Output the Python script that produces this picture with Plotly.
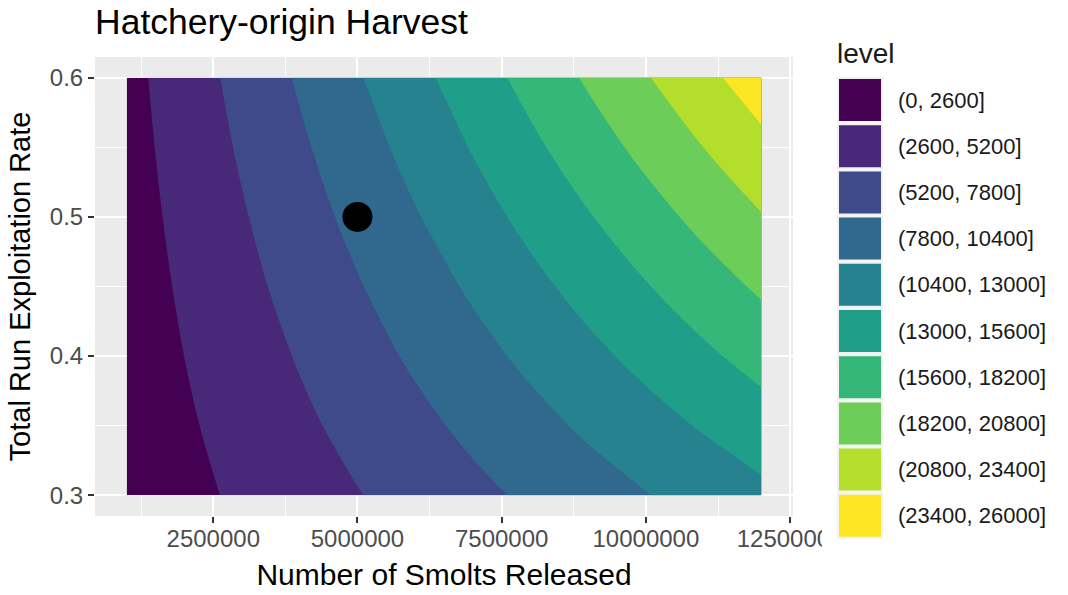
import plotly.graph_objects as go

# Smolts released (grid columns) and total run exploitation rate (grid rows)
smolts = [1000000, 2000000, 3000000, 4000000, 5000000, 6000000,
          7000000, 8000000, 9000000, 10000000, 11000000, 12000000]
exploit_rate = [0.30, 0.35, 0.40, 0.45, 0.50, 0.55, 0.60]

# Hatchery-origin harvest on the grid (rows follow exploit_rate)
harvest_r30 = [910, 1960, 3000, 4040, 5090, 6130, 7180, 8220, 9260, 10310, 11350, 12400]
harvest_r35 = [1060, 2280, 3500, 4720, 5940, 7150, 8370, 9590, 10810, 12030, 13240, 14460]
harvest_r40 = [1220, 2610, 4000, 5390, 6790, 8180, 9570, 10960, 12350, 13740, 15140, 16530]
harvest_r45 = [1370, 2930, 4500, 6070, 7630, 9200, 10760, 12330, 13900, 15460, 17030, 18590]
harvest_r50 = [1520, 3260, 5000, 6740, 8480, 10220, 11960, 13700, 15440, 17180, 18920, 20660]
harvest_r55 = [1670, 3590, 5500, 7410, 9330, 11240, 13160, 15070, 16990, 18900, 20810, 22730]
harvest_r60 = [1820, 3910, 6000, 8090, 10180, 12260, 14350, 16440, 18530, 20620, 22700, 24790]
harvest = [harvest_r30, harvest_r35, harvest_r40, harvest_r45,
           harvest_r50, harvest_r55, harvest_r60]

# Contour bins and their labels
level_breaks = [0, 2600, 5200, 7800, 10400, 13000, 15600, 18200, 20800, 23400, 26000]
level_labels = ["(0, 2600]", "(2600, 5200]", "(5200, 7800]", "(7800, 10400]",
                "(10400, 13000]", "(13000, 15600]", "(15600, 18200]",
                "(18200, 20800]", "(20800, 23400]", "(23400, 26000]"]
level_colors = ["#440154", "#482878", "#3E4A89", "#31688E", "#26828E",
                "#1F9E89", "#35B779", "#6DCD59", "#B4DE2C", "#FDE725"]

# Current operating point
point_smolts = [5000000]
point_rate = [0.5]

x_tickvals = [2500000, 5000000, 7500000, 10000000, 12500000]
x_ticktext = ["2500000", "5000000", "7500000", "10000000", "12500000"]
x_minor = [1250000, 3750000, 6250000, 8750000, 11250000]
y_tickvals = [0.3, 0.4, 0.5, 0.6]
y_ticktext = ["0.3", "0.4", "0.5", "0.6"]
y_minor = [0.35, 0.45, 0.55]

W, H = 1068, 595
ML, MR, MT, MB = 95, 275, 57, 79
PW, PH = W - ML - MR, H - MT - MB
FONT = "Liberation Sans, Arial, sans-serif"


def px_x(px):
    return (px - ML) / PW


def px_y(py):
    return (H - MB - py) / PH


n = len(level_colors)
colorscale = [[i / (n - 1), c] for i, c in enumerate(level_colors)]
step = level_breaks[1] - level_breaks[0]

fig = go.Figure()
fig.add_trace(go.Contour(
    x=smolts, y=exploit_rate, z=harvest,
    colorscale=colorscale, showscale=False,
    contours=dict(start=level_breaks[1], end=level_breaks[-2], size=step,
                  coloring="fill", showlines=False),
    line=dict(width=0), hoverinfo="skip",
))
fig.add_trace(go.Scatter(
    x=point_smolts, y=point_rate, mode="markers",
    marker=dict(size=30, color="black", line=dict(width=0)),
    showlegend=False, hoverinfo="skip",
))

shapes = []
annotations = []

# The rightmost x tick label runs into the legend area and is cut off there
shapes.append(dict(type="rect", xref="paper", yref="paper",
                   x0=px_x(822), x1=px_x(852), y0=px_y(562), y1=px_y(530),
                   fillcolor="white", line=dict(width=0), layer="above"))

# Discrete legend for the filled contour levels
key_left, key_size, key_top, key_step = 838, 44, 78, 46.2
for i, (lab, col) in enumerate(zip(level_labels, level_colors)):
    top = key_top + i * key_step
    shapes.append(dict(type="rect", xref="paper", yref="paper",
                       x0=px_x(key_left), x1=px_x(key_left + key_size),
                       y0=px_y(top + key_size), y1=px_y(top),
                       fillcolor=col, line=dict(color="#F2F2F2", width=2),
                       layer="above"))
    annotations.append(dict(xref="paper", yref="paper",
                            x=px_x(896), y=px_y(top + key_size / 2),
                            xanchor="left", yanchor="middle", showarrow=False,
                            text=lab, font=dict(family=FONT, size=22, color="#1A1A1A")))
annotations.append(dict(xref="paper", yref="paper", x=px_x(835), y=px_y(53),
                        xanchor="left", yanchor="middle", showarrow=False,
                        text="level", font=dict(family=FONT, size=28, color="#1A1A1A")))

axis_common = dict(
    showline=False, zeroline=False, showgrid=True, gridcolor="white", gridwidth=2,
    ticks="outside", ticklen=6, tickwidth=2, tickcolor="#333333",
    tickfont=dict(family=FONT, size=24, color="#4D4D4D"),
    automargin=False,
)

fig.update_layout(
    width=W, height=H,
    margin=dict(l=ML, r=MR, t=MT, b=MB),
    paper_bgcolor="white", plot_bgcolor="#EBEBEB",
    showlegend=False,
    title=dict(text="Hatchery-origin Harvest", xref="paper", x=0, xanchor="left",
               yref="container", y=1 - 22 / H, yanchor="middle",
               font=dict(family=FONT, size=35.5, color="black")),
    xaxis=dict(range=[450000, 12550000], tickvals=x_tickvals, ticktext=x_ticktext,
               ticklabelstandoff=-5,
               minor=dict(tickvals=x_minor, showgrid=True, gridcolor="white",
                          gridwidth=1, ticks=""),
               title=dict(text="Number of Smolts Released", standoff=13,
                          font=dict(family=FONT, size=30, color="black")),
               **axis_common),
    yaxis=dict(range=[0.285, 0.615], tickvals=y_tickvals, ticktext=y_ticktext,
               minor=dict(tickvals=y_minor, showgrid=True, gridcolor="white",
                          gridwidth=1, ticks=""),
               title=dict(text="Total Run Exploitation Rate", standoff=10,
                          font=dict(family=FONT, size=29, color="black")),
               **axis_common),
    shapes=shapes,
    annotations=annotations,
)

fig.write_html("out.html")
